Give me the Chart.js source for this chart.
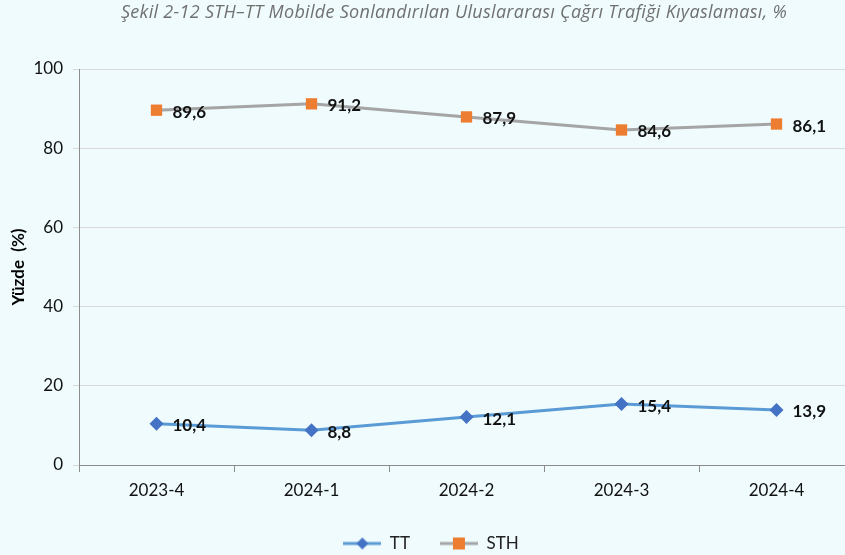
<!DOCTYPE html>
<html>
<head>
<meta charset="utf-8">
<script src="https://cdn.jsdelivr.net/npm/chart.js@4.4.1/dist/chart.umd.min.js"></script>
<style>
    html, body { margin: 0; padding: 0; background: #effbfd; overflow: hidden; }
    #wrap { position: relative; width: 845px; height: 555px; overflow: hidden; }
    #box { position: absolute; left: 0; top: 0; width: 862px; height: 555px; }
</style>
</head>
<body>
<div id="wrap">
    <div id="box"><canvas id="chart"></canvas></div>
</div>
<script>
const chartTitle = 'Şekil 2-12 STH–TT Mobilde Sonlandırılan Uluslararası Çağrı Trafiği Kıyaslaması, %';
const periods = ['2023-4', '2024-1', '2024-2', '2024-3', '2024-4'];
const ttValues = [10.4, 8.8, 12.1, 15.4, 13.9];
const sthValues = [89.6, 91.2, 87.9, 84.6, 86.1];

const blueLine = '#5b9bd5';
const blueMark = '#4472c4';
const grayLine = '#a5a5a5';
const orange = '#ed7d31';

// legend sample: a short line with the marker in the middle
function legendIcon(lineColor, markColor, shape) {
    const c = document.createElement('canvas');
    c.width = 38; c.height = 14;
    const ctx = c.getContext('2d');
    ctx.strokeStyle = lineColor;
    ctx.lineWidth = 3;
    ctx.beginPath();
    ctx.moveTo(0, 7); ctx.lineTo(38, 7);
    ctx.stroke();
    ctx.fillStyle = markColor;
    if (shape === 'diamond') {
        ctx.beginPath();
        ctx.moveTo(19, 1); ctx.lineTo(25, 7); ctx.lineTo(19, 13); ctx.lineTo(13, 7);
        ctx.closePath();
        ctx.fill();
    } else {
        ctx.fillRect(13, 1, 12, 12);
    }
    return c;
}

const titleText = {
    id: 'titleText',
    afterDraw(chart) {
        const ctx = chart.ctx;
        ctx.save();
        ctx.font = 'italic 18px "Open Sans", sans-serif';
        if ('letterSpacing' in ctx) ctx.letterSpacing = '0.3px';
        ctx.fillStyle = '#707070';
        ctx.textAlign = 'center';
        ctx.textBaseline = 'middle';
        ctx.fillText(chartTitle, 454, 13);
        ctx.restore();
    }
};

const valueLabels = {
    id: 'valueLabels',
    afterDatasetsDraw(chart) {
        const ctx = chart.ctx;
        ctx.save();
        ctx.font = 'bold 17px Lato, sans-serif';
        ctx.fillStyle = '#111';
        ctx.textBaseline = 'middle';
        ctx.textAlign = 'left';
        chart.data.datasets.forEach((ds, i) => {
            chart.getDatasetMeta(i).data.forEach((pt, j) => {
                const txt = ds.data[j].toFixed(1).replace('.', ',');
                ctx.fillText(txt, pt.x + 16, pt.y + 2);
            });
        });
        ctx.restore();
    }
};

new Chart(document.getElementById('chart'), {
    type: 'line',
    data: {
        labels: periods,
        datasets: [
            {
                label: 'TT',
                data: ttValues,
                borderColor: blueLine,
                borderWidth: 3,
                backgroundColor: blueMark,
                pointStyle: 'rectRot',
                pointRadius: 7,
                pointBorderWidth: 0,
                tension: 0
            },
            {
                label: 'STH',
                data: sthValues,
                borderColor: grayLine,
                borderWidth: 3,
                backgroundColor: orange,
                pointStyle: 'rect',
                pointRadius: 8,
                pointBorderWidth: 0,
                tension: 0
            }
        ]
    },
    options: {
        responsive: true,
        maintainAspectRatio: false,
        animation: false,
        layout: { padding: { top: 69, left: 8, right: 8, bottom: -7 } },
        plugins: {
            title: { display: false },
            tooltip: { enabled: false },
            legend: {
                position: 'bottom',
                labels: {
                    usePointStyle: true,
                    pointStyleWidth: 38,
                    padding: 30,
                    color: '#222',
                    font: { family: 'Lato', size: 17 },
                    generateLabels() {
                        return [
                            { text: 'TT', pointStyle: legendIcon(blueLine, blueMark, 'diamond'), datasetIndex: 0, lineWidth: 0, fontColor: '#222' },
                            { text: 'STH', pointStyle: legendIcon(grayLine, orange, 'square'), datasetIndex: 1, lineWidth: 0, fontColor: '#222' }
                        ];
                    }
                }
            }
        },
        scales: {
            x: {
                offset: true,
                grid: { drawOnChartArea: false, drawTicks: true, tickLength: 7, color: '#8c8c8c', offset: true },
                border: { color: '#8c8c8c', width: 1 },
                ticks: { color: '#111', font: { family: 'Lato', size: 17 }, padding: 8 },
                afterFit(scale) { scale.height = 40; }
            },
            y: {
                min: 0,
                max: 100,
                ticks: { stepSize: 20, color: '#111', font: { family: 'Lato', size: 17 }, padding: 10 },
                grid: { color: '#d9d9d9', tickLength: 6, drawTicks: true },
                border: { color: '#8c8c8c', width: 1 },
                title: {
                    display: true,
                    text: 'Yüzde  (%)',
                    color: '#000',
                    font: { family: 'Lato', size: 17, weight: 'bold' },
                    padding: { top: 0, bottom: 4 }
                },
                afterFit(scale) { scale.width = 71; }
            }
        }
    },
    plugins: [valueLabels, titleText]
});
</script>
</body>
</html>
